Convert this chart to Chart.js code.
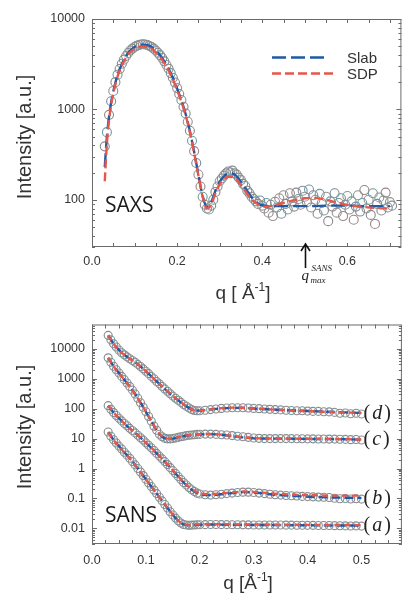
<!DOCTYPE html>
<html>
<head>
<meta charset="utf-8">
<script src="https://cdn.jsdelivr.net/npm/chart.js@4.4.1/dist/chart.umd.min.js"></script>
<style>
  html, body { margin: 0; padding: 0; background: #fff; }
  #wrap { position: relative; width: 407px; height: 604px; overflow: hidden; }
  canvas { position: absolute; left: 0; }
  #saxs { top: 0; }
  #sans { top: 310px; }
</style>
</head>
<body>
<div id="wrap">
  <canvas id="saxs" width="407" height="310"></canvas>
  <canvas id="sans" width="407" height="294"></canvas>
</div>
<script>
// ---- SAXS (top panel) ----
const saxsQ = [
  0.030,0.035,0.040,0.045,0.050,0.055,0.060,0.065,0.070,0.075,
  0.080,0.085,0.090,0.095,0.100,0.105,0.110,0.115,0.120,0.125,
  0.130,0.135,0.140,0.145,0.150,0.155,0.160,0.165,0.170,0.175,
  0.180,0.185,0.190,0.195,0.200,0.205,0.210,0.215,0.220,0.225,
  0.230,0.235,0.240,0.245,0.250,0.255,0.260,0.265,0.270,0.275,
  0.280,0.285,0.290,0.295,0.300,0.305,0.310,0.315,0.320,0.325,
  0.330,0.335,0.340,0.345,0.350,0.355,0.360,0.365,0.370,0.375,
  0.380,0.385,0.390,0.395,0.400,0.405,0.410,0.415,0.420,0.425,
  0.430,0.435,0.440,0.445,0.450,0.455,0.460,0.465,0.470,0.475,
  0.480,0.485,0.490,0.495,0.500,0.505,0.510,0.515,0.520,0.525,
  0.530,0.535,0.540,0.545,0.550,0.555,0.560,0.565,0.570,0.575,
  0.580,0.585,0.590,0.595,0.600,0.605,0.610,0.615,0.620,0.625,
  0.630,0.635,0.640,0.645,0.650,0.655,0.660,0.665,0.670,0.675,
  0.680,0.685,0.690,0.695,0.700,0.705
];
const saxsI = [
  390,560,870,1230,1600,2000,2420,2800,3200,3550,
  3900,4200,4480,4700,4900,5050,5150,5230,5250,5220,
  5150,5030,4900,4700,4480,4230,3980,3700,3400,3100,
  2820,2520,2240,1980,1720,1480,1270,1070,900,730,
  580,450,345,255,190,140,108,88,80,78,
  86,100,122,140,160,172,185,196,205,200,
  210,196,190,175,165,150,142,126,118,108,
  102,96,90,98,86,80,92,72,88,66,
  95,82,104,70,112,90,78,118,96,84,
  120,102,88,126,108,94,130,82,112,100,
  70,116,92,76,108,58,96,84,118,72,
  92,104,66,88,110,78,96,60,84,112,
  74,92,128,80,100,68,118,54,90,106,
  76,98,120,82,94,86
];
const saxsQm = [
  0.03,0.035,0.04,0.045,0.05,0.06,0.07,0.08,0.09,0.10,
  0.11,0.12,0.13,0.14,0.15,0.16,0.17,0.18,0.19,0.20,
  0.21,0.22,0.23,0.24,0.25,0.26,0.27,0.28,0.29,0.30,
  0.31,0.32,0.33,0.34,0.35,0.36,0.37,0.38,0.39,0.40,
  0.41,0.42,0.45,0.48,0.50,0.52,0.55,0.58,0.61,0.64,
  0.67,0.70
];
const saxsSlab = [
  230,500,830,1200,1580,2400,3160,3890,4470,4900,
  5130,5200,5130,4900,4470,3980,3390,2820,2240,1700,
  1260,890,575,339,190,110,83,93,126,158,
  182,195,195,182,158,135,115,100,91,87,
  85,85,85,85,85,85,86,86,86,85,
  85,85
];
const saxsSdp = [
  160,420,760,1120,1500,2300,3050,3750,4300,4700,
  4920,4980,4900,4680,4280,3800,3250,2700,2150,1640,
  1220,860,560,330,185,108,80,88,118,148,
  170,180,178,165,145,125,108,96,89,85,
  84,85,92,100,104,105,100,92,86,83,
  81,80
];
const saxsXTicks = [0, 0.2, 0.4, 0.6];
const saxsYTicks = [100, 1000, 10000];

// ---- SANS (bottom panel) ----
const sansQ = [
  0.030,0.035,0.040,0.045,0.050,0.055,0.060,0.065,0.070,0.075,
  0.080,0.085,0.090,0.095,0.100,0.105,0.110,0.115,0.120,0.125,
  0.130,0.135,0.140,0.145,0.150,0.155,0.160,0.165,0.170,0.175,
  0.180,0.185,0.190,0.195,0.200,
  0.21,0.22,0.23,0.24,0.25,0.26,0.27,0.28,0.29,0.30,
  0.31,0.32,0.33,0.34,0.35,0.36,0.37,0.38,0.39,0.40,
  0.41,0.42,0.43,0.44,0.45,0.46,0.47,0.48,0.49,0.50
];
const sansD = [
  28200,19950,14800,11500,9100,7400,6300,5370,4680,4070,
  3550,3020,2570,2140,1780,1480,1200,1000,813,676,
  550,457,380,316,263,224,191,162,138,120,
  105,93,87,85,85,
  89,93,98,102,105,107,107,107,105,102,
  100,98,95,93,91,89,87,85,85,83,
  81,81,79,78,75,70,72,68,70,66
];
const sansC = [
  5000,3550,2630,2000,1550,1200,933,724,550,417,
  309,224,158,112,79,55,38,26,19,14,
  11.5,10.2,9.8,9.8,10,10.5,11,11.5,12,12.6,
  12.9,13.2,13.5,13.8,13.8,
  14.1,14.1,13.8,13.5,13.2,12.6,12,11.5,11,10.5,
  10.2,10,10,10,10,10,10,9.9,9.9,9.8,
  9.8,9.7,9.7,9.6,9.6,9.5,9.4,9.2,9.3,9.0
];
const sansB = [
  126,95,74,59,48,39,32,27,22,18.6,
  15.5,12.9,10.7,8.9,7.2,6.0,4.9,4.0,3.2,2.6,
  2.1,1.7,1.35,1.07,0.85,0.68,0.54,0.43,0.34,0.28,
  0.23,0.195,0.17,0.15,0.14,
  0.132,0.129,0.132,0.138,0.145,0.151,0.158,0.162,0.162,0.158,
  0.151,0.145,0.138,0.132,0.129,0.126,0.123,0.12,0.117,0.115,
  0.113,0.111,0.109,0.107,0.102,0.098,0.1,0.096,0.098,0.095
];
const sansA = [
  16.6,12,9.1,7.1,5.6,4.5,3.5,2.8,2.2,1.7,
  1.32,1.0,0.76,0.58,0.44,0.33,0.25,0.19,0.145,0.11,
  0.083,0.063,0.048,0.036,0.028,0.022,0.0178,0.0151,0.0135,0.0129,
  0.0126,0.0128,0.013,0.0132,0.0132,
  0.0133,0.0134,0.0134,0.0133,0.0133,0.0132,0.0132,0.0131,0.0131,0.013,
  0.013,0.013,0.0129,0.0129,0.0129,0.0128,0.0128,0.0127,0.0127,0.0126,
  0.0126,0.0125,0.0125,0.0124,0.0123,0.0122,0.0121,0.012,0.0121,0.0119
];
const sansQm = [
  0.03,0.04,0.05,0.06,0.07,0.08,0.09,0.10,0.11,0.12,
  0.13,0.14,0.15,0.16,0.17,0.18,0.19,0.20,0.22,0.24,
  0.26,0.28,0.30,0.33,0.36,0.39,0.42,0.45,0.48,0.50
];
const slabD = [28000,14900,9200,6300,4700,3550,2560,1770,1190,810,550,380,262,190,138,106,89,86,94,102,106,106,101,95,89,85,81,77,74,72];
const sdpD  = [28500,14700,9000,6250,4650,3520,2580,1790,1210,820,555,382,265,192,140,104,88,86,95,104,108,107,102,95,89,84,80,76,74,72];
const slabC = [5000,2630,1550,933,550,309,158,79,38,19,11.5,9.8,10,11,12,12.9,13.5,13.8,14.1,13.5,12,11,10.2,10,10,9.8,9.7,9.6,9.4,9.2];
const sdpC  = [5050,2600,1530,925,545,306,157,80,39,19.5,11.8,10,10.2,11.2,12.2,13.1,13.7,14,14.3,13.6,12.1,11.1,10.3,10.1,10,9.9,9.8,9.7,9.5,9.3];
const slabB = [126,74,48,32,22,15.5,10.7,7.2,4.9,3.2,2.1,1.35,0.85,0.54,0.34,0.23,0.17,0.14,0.129,0.138,0.151,0.162,0.158,0.138,0.126,0.117,0.111,0.107,0.105,0.104];
const sdpB  = [128,75,48,32,22,15.6,10.8,7.3,5.0,3.25,2.15,1.38,0.87,0.55,0.35,0.24,0.18,0.15,0.138,0.148,0.158,0.17,0.166,0.148,0.138,0.13,0.126,0.124,0.124,0.125];
const slabA = [16.6,9.1,5.6,3.5,2.2,1.32,0.76,0.44,0.25,0.145,0.083,0.048,0.028,0.0178,0.0135,0.0126,0.013,0.0132,0.0134,0.0133,0.0132,0.0131,0.013,0.0129,0.0128,0.0127,0.0126,0.0125,0.0124,0.0123];
const sdpA  = [16.2,9.0,5.5,3.45,2.18,1.3,0.75,0.44,0.25,0.146,0.084,0.049,0.029,0.0182,0.014,0.013,0.0134,0.0136,0.0138,0.0137,0.0136,0.0135,0.0134,0.0133,0.0132,0.0131,0.013,0.0129,0.0129,0.0128];
const sansCurveNames = ['d', 'c', 'b', 'a'];
const sansXTicks = [0, 0.1, 0.2, 0.3, 0.4, 0.5];
const sansYTicks = [0.01, 0.1, 1, 10, 100, 1000, 10000];

// ---- estilos ----
const BLUE = '#1f5aa6';
const RED = '#e4574a';
const rings = ['#8a8a8a', '#6f9c9e', '#9a8585', '#7d8b9c', '#939393'];
const SANS_FONT = '"Liberation Sans", Arial, sans-serif';

Chart.defaults.font.family = SANS_FONT;
Chart.defaults.color = '#333';
Chart.defaults.animation = false;

const pts = (xs, ys) => xs.map((x, i) => ({ x: x, y: ys[i] }));

function modelLine(label, q, vals, color, dash, order) {
  return {
    label: label, data: pts(q, vals), borderColor: color, borderDash: dash,
    borderWidth: 2.4, pointRadius: 0, pointHitRadius: 0, fill: false,
    cubicInterpolationMode: 'monotone', order: order
  };
}

function circles(q, vals, r) {
  return {
    label: 'data', data: pts(q, vals), showLine: false, pointRadius: r,
    pointBorderWidth: 1.1, pointBackgroundColor: 'rgba(0,0,0,0)',
    pointBorderColor: c => rings[c.dataIndex % rings.length], order: 5
  };
}

// moldura com ticks para dentro nos quatro lados
const frame = {
  id: 'frame',
  afterDatasetsDraw(chart, args, o) {
    const ctx = chart.ctx, a = chart.chartArea;
    const x = chart.scales.x, y = chart.scales.y;
    ctx.save();
    ctx.strokeStyle = '#6b6b6b';
    ctx.lineWidth = 1;
    ctx.setLineDash([]);
    ctx.strokeRect(a.left + 0.5, a.top + 0.5, a.width - 1, a.height - 1);
    ctx.beginPath();
    o.xTicks.forEach(v => {
      const p = Math.round(x.getPixelForValue(v)) + 0.5;
      ctx.moveTo(p, a.bottom); ctx.lineTo(p, a.bottom - 4);
      ctx.moveTo(p, a.top); ctx.lineTo(p, a.top + 4);
    });
    for (let d = Math.floor(Math.log10(y.min)); d <= Math.ceil(Math.log10(y.max)); d++) {
      for (let m = 1; m < 10; m++) {
        const v = m * Math.pow(10, d);
        if (v < y.min || v > y.max) continue;
        const p = Math.round(y.getPixelForValue(v)) + 0.5;
        const len = m === 1 ? 5 : 3;
        ctx.moveTo(a.left, p); ctx.lineTo(a.left + len, p);
        ctx.moveTo(a.right, p); ctx.lineTo(a.right - len, p);
      }
    }
    ctx.stroke();
    ctx.restore();
  }
};

function yTitle(ctx, cy) {
  ctx.save();
  ctx.translate(25, cy);
  ctx.rotate(-Math.PI / 2);
  ctx.font = '20px ' + SANS_FONT;
  ctx.fillStyle = '#333';
  ctx.textAlign = 'center';
  ctx.textBaseline = 'middle';
  ctx.fillText('Intensity [a.u.]', 0, 0);
  ctx.restore();
}

function qTitle(ctx, cx, base, head) {
  ctx.save();
  ctx.fillStyle = '#333';
  ctx.textBaseline = 'alphabetic';
  ctx.font = '19px ' + SANS_FONT;
  const w1 = ctx.measureText(head).width;
  const w3 = ctx.measureText(']').width;
  ctx.font = '12px ' + SANS_FONT;
  const w2 = ctx.measureText('-1').width;
  let x0 = cx - (w1 + w2 + w3) / 2;
  ctx.font = '19px ' + SANS_FONT;
  ctx.fillText(head, x0, base);
  ctx.font = '12px ' + SANS_FONT;
  ctx.fillText('-1', x0 + w1, base - 8);
  ctx.font = '19px ' + SANS_FONT;
  ctx.fillText(']', x0 + w1 + w2, base);
  ctx.restore();
}

function dashSample(ctx, x1, x2, y, color, dash) {
  ctx.save();
  ctx.strokeStyle = color;
  ctx.lineWidth = 2.4;
  ctx.setLineDash(dash);
  ctx.beginPath();
  ctx.moveTo(x1, y); ctx.lineTo(x2, y);
  ctx.stroke();
  ctx.restore();
}

const saxsText = {
  id: 'saxsText',
  afterDraw(chart) {
    const ctx = chart.ctx;
    yTitle(ctx, 137);
    qTitle(ctx, 243, 299, 'q [ Å');
    // legenda
    dashSample(ctx, 272, 328, 57.5, BLUE, [14, 5]);
    dashSample(ctx, 272, 334, 73.5, RED, [9, 4]);
    ctx.save();
    ctx.fillStyle = '#333';
    ctx.font = '15px ' + SANS_FONT;
    ctx.fillText('Slab', 347, 63);
    ctx.fillText('SDP', 347, 79);
    ctx.font = '21px "Open Sans", sans-serif';
    ctx.fillStyle = '#1a1a1a';
    ctx.fillText('SAXS', 105, 212);
    // seta em q = 0.5
    const xp = Math.round(chart.scales.x.getPixelForValue(0.5)) + 0.5;
    const tip = chart.chartArea.bottom - 3;
    ctx.strokeStyle = '#111';
    ctx.lineWidth = 1.6;
    ctx.beginPath();
    ctx.moveTo(xp, tip); ctx.lineTo(xp, tip + 24);
    ctx.moveTo(xp - 4.5, tip + 7); ctx.lineTo(xp, tip); ctx.lineTo(xp + 4.5, tip + 7);
    ctx.stroke();
    ctx.fillStyle = '#222';
    ctx.font = 'italic 15px "Liberation Serif", serif';
    ctx.fillText('q', xp - 4, 280);
    ctx.font = 'italic 9px "Liberation Serif", serif';
    ctx.fillText('SANS', xp + 6, 271);
    ctx.fillText('max', xp + 5, 283);
    ctx.restore();
  }
};

const sansText = {
  id: 'sansText',
  afterDraw(chart) {
    const ctx = chart.ctx;
    yTitle(ctx, 117);
    qTitle(ctx, 248, 279, 'q [Å');
    ctx.save();
    ctx.font = '21px "Open Sans", sans-serif';
    ctx.fillStyle = '#1a1a1a';
    ctx.fillText('SANS', 105, 212);
    // rótulos (a)-(d) no fim de cada curva
    const lasts = [sansD, sansC, sansB, sansA].map(s => s[s.length - 1]);
    const x0 = chart.scales.x.getPixelForValue(0.5) + 2;
    ctx.textBaseline = 'middle';
    ctx.fillStyle = '#222';
    lasts.forEach((v, i) => {
      const y = chart.scales.y.getPixelForValue(v);
      let x = x0;
      ctx.font = '20px "Liberation Serif", serif';
      ctx.fillText('(', x, y); x += ctx.measureText('(').width + 2;
      ctx.font = 'italic 20px "Liberation Serif", serif';
      ctx.fillText(sansCurveNames[i], x, y); x += ctx.measureText(sansCurveNames[i]).width + 2;
      ctx.font = '20px "Liberation Serif", serif';
      ctx.fillText(')', x, y);
    });
    ctx.restore();
  }
};

function axes(xMin, xMax, xTicks, yMin, yMax, yTicks, xH, xPad) {
  return {
    x: {
      type: 'linear', min: xMin, max: xMax,
      grid: { display: false, drawTicks: false }, border: { display: false },
      ticks: { padding: xPad, autoSkip: false, maxRotation: 0, font: { size: 12.5 }, color: '#333',
               callback: v => v.toFixed(1) },
      afterBuildTicks: s => { s.ticks = xTicks.map(v => ({ value: v })); },
      afterFit: s => { s.height = xH; }
    },
    y: {
      type: 'logarithmic', min: yMin, max: yMax,
      grid: { display: false, drawTicks: false }, border: { display: false },
      ticks: { padding: 7, autoSkip: false, font: { size: 12.5 }, color: '#333',
               callback: v => String(v) },
      afterBuildTicks: s => { s.ticks = yTicks.map(v => ({ value: v })); },
      afterFit: s => { s.width = 92; }
    }
  };
}

new Chart(document.getElementById('saxs'), {
  type: 'line',
  data: {
    datasets: [
      modelLine('SDP', saxsQm, saxsSdp, RED, [9, 4], 1),
      modelLine('Slab', saxsQm, saxsSlab, BLUE, [14, 5], 2),
      circles(saxsQ, saxsI, 4.5)
    ]
  },
  options: {
    responsive: false, devicePixelRatio: 1,
    layout: { padding: { left: 0, top: 19, right: 1, bottom: 0 } },
    scales: axes(0, 0.727, saxsXTicks, 30, 10000, saxsYTicks, 63, 7),
    plugins: { legend: { display: false }, tooltip: { enabled: false }, frame: { xTicks: [0,0.05,0.1,0.15,0.2,0.25,0.3,0.35,0.4,0.45,0.5,0.55,0.6,0.65,0.7] } }
  },
  plugins: [frame, saxsText]
});

const sansSets = [];
[[slabD, sdpD, sansD], [slabC, sdpC, sansC], [slabB, sdpB, sansB], [slabA, sdpA, sansA]].forEach(g => {
  sansSets.push(modelLine('SDP', sansQm, g[1], RED, [6, 4], 1));
  sansSets.push(modelLine('Slab', sansQm, g[0], BLUE, [9, 4], 2));
  sansSets.push(circles(sansQ, g[2], 4));
});

const sansMinor = [];
for (let t = 0; t <= 0.575; t += 0.025) sansMinor.push(t);

new Chart(document.getElementById('sans'), {
  type: 'line',
  data: { datasets: sansSets },
  options: {
    responsive: false, devicePixelRatio: 1,
    layout: { padding: { left: 0, top: 8, right: 1, bottom: 0 } },
    scales: axes(0, 0.575, sansXTicks, 0.003, 65000, sansYTicks, 60, 9),
    plugins: { legend: { display: false }, tooltip: { enabled: false }, frame: { xTicks: sansMinor } }
  },
  plugins: [frame, sansText]
});
</script>
</body>
</html>
